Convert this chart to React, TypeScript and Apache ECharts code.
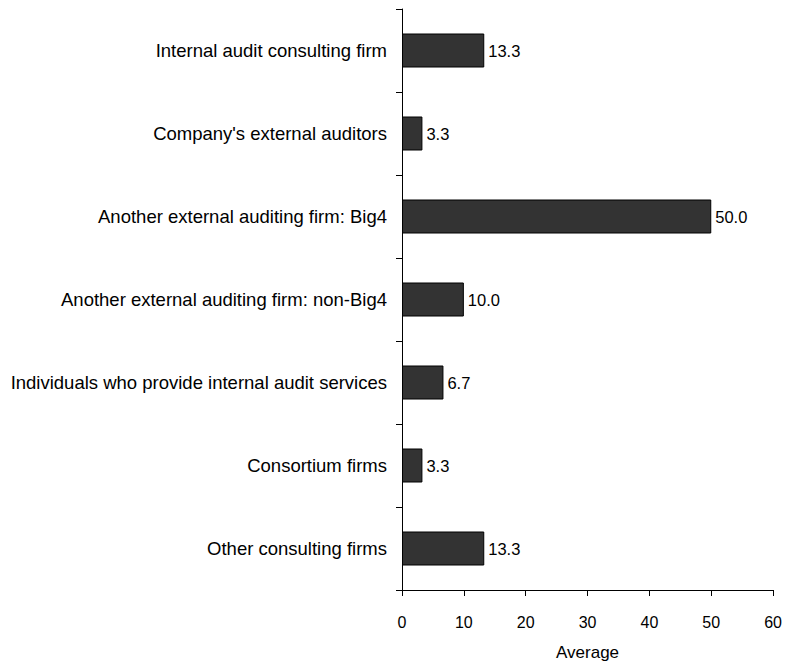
import React, { useEffect, useRef } from "react";
import * as echarts from "echarts";

const categories = [
  "Internal audit consulting firm",
  "Company's external auditors",
  "Another external auditing firm: Big4",
  "Another external auditing firm: non-Big4",
  "Individuals who provide internal audit services",
  "Consortium firms",
  "Other consulting firms",
];
const values = [13.3, 3.3, 50.0, 10.0, 6.7, 3.3, 13.3];
const xTicks = { min: 0, max: 60, interval: 10 };
const xName = "Average";

const FONT = "Liberation Sans";

export default function App() {
  const ref = useRef<HTMLDivElement>(null);
  useEffect(() => {
    if (!ref.current) return;
    const chart = echarts.init(ref.current, null, { renderer: "svg" });
    chart.setOption({
      animation: false,
      grid: { left: 402, right: 9, top: 9, bottom: 76, containLabel: false },
      xAxis: {
        type: "value",
        min: xTicks.min,
        max: xTicks.max,
        interval: xTicks.interval,
        name: xName,
        nameLocation: "middle",
        nameGap: 54,
        nameTextStyle: { color: "#000", fontSize: 17, fontFamily: FONT },
        axisLine: { show: true, lineStyle: { color: "#000", width: 1 } },
        axisTick: { show: true, length: 6, lineStyle: { color: "#000" } },
        axisLabel: { color: "#000", fontSize: 16, fontFamily: FONT, margin: 24 },
        splitLine: { show: false },
      },
      yAxis: {
        type: "category",
        data: categories,
        inverse: true,
        axisLine: { show: true, lineStyle: { color: "#000", width: 1 } },
        axisTick: { show: true, length: 6, lineStyle: { color: "#000" } },
        axisLabel: { color: "#000", fontSize: 18.5, fontFamily: FONT, margin: 15 },
        splitLine: { show: false },
      },
      series: [
        {
          type: "bar",
          data: values,
          barWidth: 34,
          itemStyle: { color: "#333333", borderColor: "#000", borderWidth: 1 },
          label: {
            show: true,
            position: "right",
            distance: 4,
            color: "#000",
            fontSize: 16.5,
            fontFamily: FONT,
            formatter: (p: any) => Number(p.value).toFixed(1),
          },
        },
      ],
    });
    return () => chart.dispose();
  }, []);
  return <div ref={ref} style={{ width: 785, height: 666, position: "absolute", left: 0, top: 0 }} />;
}
